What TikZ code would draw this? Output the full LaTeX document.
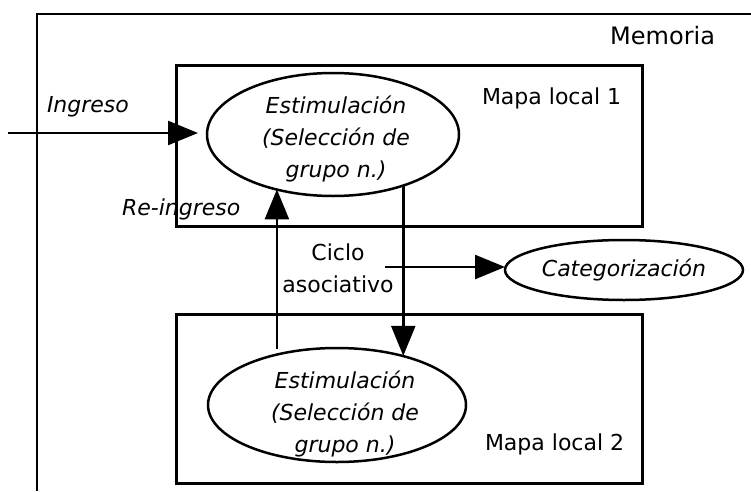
\documentclass[tikz,border=0pt]{standalone}
\usepackage{fontspec}
\setmainfont{DejaVu Sans}
\usetikzlibrary{shapes.geometric,arrows.meta}

\begin{document}
\begin{tikzpicture}[x=1pt,y=1pt,
  mapbox/.style={draw=drawColor,line width=3pt,rectangle,inner sep=0pt,outer sep=0pt},
  estim/.style={draw=drawColor,line width=2.5pt,ellipse,inner sep=0pt,outer sep=0pt},
  txt/.style={text=drawColor,inner sep=0pt,outer sep=0pt,font=\fontsize{22}{32}\selectfont},
  conn/.style={draw=drawColor,line width=2.5pt,-{Triangle[length=30pt,width=24pt]}}]
\definecolor{fillColor}{RGB}{255,255,255}
\definecolor{drawColor}{RGB}{0,0,0}
\path[use as bounding box,fill=fillColor] (0,0) rectangle (751,491);

\path[draw=drawColor,line width= 2.6pt] ( 37.00,  0.00) -- ( 37.00,477.00) -- (751.00,477.00);

\node[mapbox,minimum width=466pt,minimum height=160pt] (map1) at (409.00,345.00) {};
\node[mapbox,minimum width=466pt,minimum height=169pt] (map2) at (409.00, 92.50) {};

\node[estim,minimum width=252pt,minimum height=123pt] (est1) at (333.00,356.50) {};
\node[estim,minimum width=258pt,minimum height=114pt] (est2) at (337.00, 86.00) {};
\node[estim,txt,minimum width=238pt,minimum height=60pt,font=\fontsize{22}{32}\selectfont\itshape] (cat) at (624.00,221.00) {Categorización};

\node[txt,align=center,font=\fontsize{22}{32}\selectfont\itshape] (est1txt) at (336.00,352.20) {Estimulación\\(Selección de\\grupo n.)};
\node[txt,align=center,font=\fontsize{22}{32}\selectfont\itshape] (est2txt) at (345.00, 77.20) {Estimulación\\(Selección de\\grupo n.)};

\node[txt,anchor=base east,font=\fontsize{24}{32}\selectfont] (memo) at (715.00,446.00) {Memoria};
\node[txt,anchor=base west] (map1txt) at (482.00,386.00) {Mapa local 1};
\node[txt,anchor=base west] (map2txt) at (485.00, 41.00) {Mapa local 2};
\node[txt,anchor=base west,font=\fontsize{22}{32}\selectfont\itshape] (ingr) at ( 47.00,379.00) {Ingreso};
\node[txt,anchor=base west,font=\fontsize{22}{32}\selectfont\itshape] (reingr) at (122.00,276.00) {Re-ingreso};
\node[txt,align=center] (ciclo) at (338.00,222.30) {Ciclo\\asociativo};

\coordinate (ingL) at (  8.00,358.00);
\coordinate (cicloR) at (385.00,224.00);

\path[conn,shorten >=9pt] (ingL) -- (ingL -| est1.west);
\path[conn] ([yshift=6pt]est2.140) -- (est2.140 |- est1.224);
\path[conn] (est1.324) -- (est1.324 |- est2.37);
\path[conn] (cicloR) -- (cicloR -| cat.west);
\end{tikzpicture}
\end{document}
